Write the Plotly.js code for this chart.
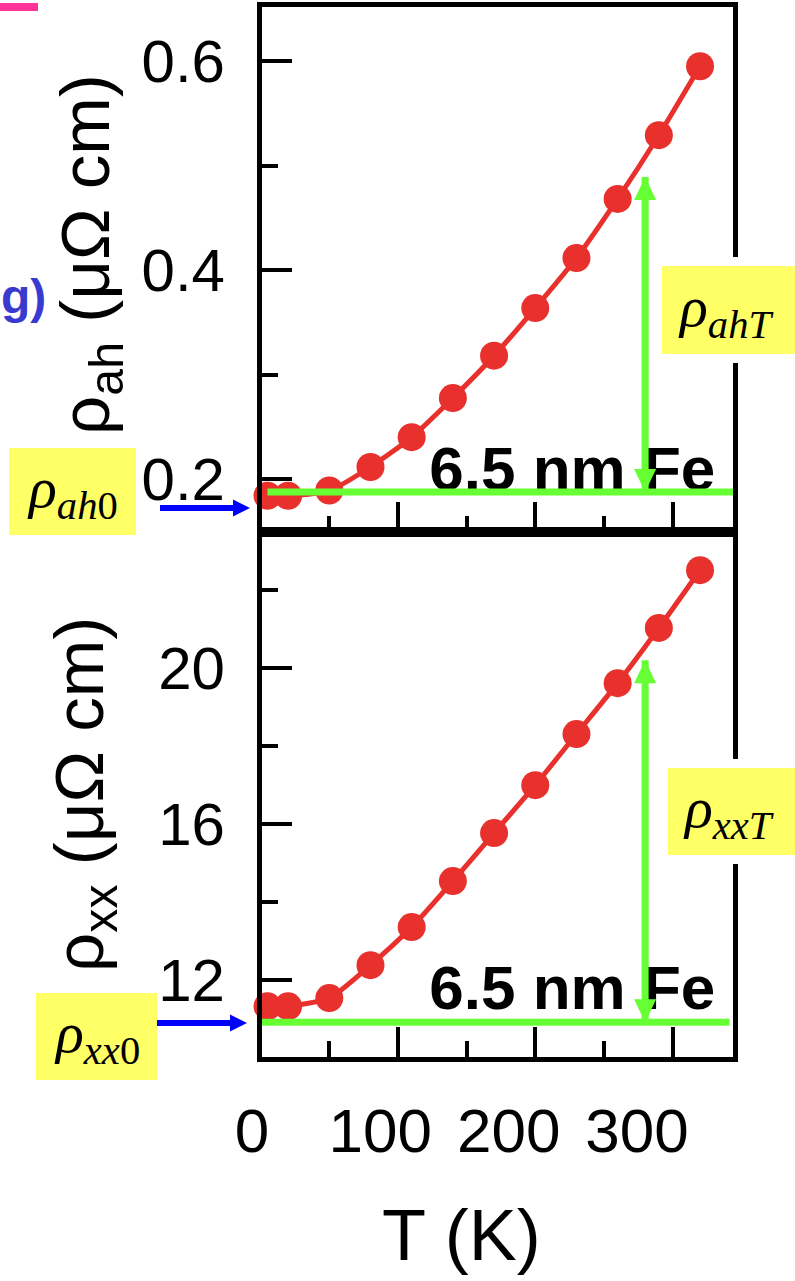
<!DOCTYPE html>
<html>
<head>
<meta charset="utf-8">
<script src="https://cdn.plot.ly/plotly-3.0.1.min.js"></script>
<style>
  html, body { margin: 0; padding: 0; background: #ffffff; }
  #chart { width: 795px; height: 1281px; }
</style>
</head>
<body>
<div id="chart"></div>
<script>
// Temperature points (K)
const T = [5, 20, 50, 80, 110, 140, 170, 200, 230, 260, 290, 320];
// Anomalous Hall resistivity (μΩ cm)
const rhoAH = [0.184, 0.184, 0.189, 0.2115, 0.240, 0.2775, 0.318, 0.3636, 0.4115, 0.468, 0.529, 0.595];
// Longitudinal resistivity (μΩ cm)
const rhoXX = [11.33, 11.33, 11.54, 12.385, 13.36, 14.54, 15.77, 17.0, 18.31, 19.615, 21.03, 22.51];

// Residual (T -> 0) levels and the temperature-dependent part marked at T = 280 K
const rhoAH0 = 0.1876;
const rhoXX0 = 10.92;
const markT = 280;
const markAHtop = 0.489;
const markXXtop = 20.2;

// Tick labels
const tTicks = [0, 100, 200, 300];
const tTickText = ['0', '100', '200', '300'];
const ahTicks = [0.2, 0.4, 0.6];
const ahTickText = ['0.2', '0.4', '0.6'];
const xxTicks = [12, 16, 20];
const xxTickText = ['12', '16', '20'];

const RED = '#e8302d';
const GREEN = '#66ff33';
const YELLOW = '#ffff66';
const BLUE = '#0000ff';
const SANS = 'Liberation Sans, Arial, sans-serif';
const SERIF = 'Liberation Serif, Times New Roman, serif';

// Plot area in page pixels
const M = { l: 230, r: 62, t: 7, b: 224 };
const W = 795, H = 1281;
const PW = W - M.l - M.r, PH = H - M.t - M.b;
const X = px => (px - M.l) / PW;          // page x -> paper fraction
const Y = py => (H - M.b - py) / PH;      // page y -> paper fraction
const xDom0 = X(262);

const frameAxis = {
  showline: true, linewidth: 5, linecolor: '#000', mirror: true,
  ticks: 'inside', ticklen: 30, tickwidth: 4, tickcolor: '#000',
  showgrid: false, zeroline: false, fixedrange: true
};

function tAxis(anchor) {
  return Object.assign({}, frameAxis, {
    domain: [xDom0, 1], range: [1, 344], anchor: anchor,
    tickmode: 'array', tickvals: [100, 200, 300], showticklabels: false,
    minor: { tickmode: 'array', tickvals: [50, 150, 250], ticks: 'inside', ticklen: 16, tickwidth: 4, tickcolor: '#000' }
  });
}

const traces = [
  {
    x: T, y: rhoAH, xaxis: 'x', yaxis: 'y', type: 'scatter', mode: 'lines+markers',
    line: { color: RED, width: 5, shape: 'spline', smoothing: 0.6 },
    marker: { color: RED, size: 28 }, cliponaxis: false, showlegend: false
  },
  {
    x: T, y: rhoXX, xaxis: 'x2', yaxis: 'y2', type: 'scatter', mode: 'lines+markers',
    line: { color: RED, width: 5, shape: 'spline', smoothing: 0.6 },
    marker: { color: RED, size: 28 }, cliponaxis: false, showlegend: false
  },
  {
    x: [227], y: [0.2048], xaxis: 'x', yaxis: 'y', type: 'scatter', mode: 'text',
    text: ['6.5 nm Fe'], textposition: 'middle center', cliponaxis: false,
    textfont: { family: SANS, size: 62, weight: 'bold', color: '#000' }, showlegend: false
  },
  {
    x: [227], y: [11.67], xaxis: 'x2', yaxis: 'y2', type: 'scatter', mode: 'text',
    text: ['6.5 nm Fe'], textposition: 'middle center', cliponaxis: false,
    textfont: { family: SANS, size: 62, weight: 'bold', color: '#000' }, showlegend: false
  },
  // carries the temperature tick labels along the bottom
  { x: [], y: [], xaxis: 'x3', yaxis: 'y2', type: 'scatter', mode: 'markers', showlegend: false, hoverinfo: 'skip' }
];

// Double-headed green arrow between the residual level and the curve
function doubleArrow(xr, yr, xv, yLow, yHigh) {
  const head = { xref: xr, yref: yr, xsizemode: 'pixel', ysizemode: 'pixel', xanchor: xv,
                 type: 'path', fillcolor: GREEN, line: { width: 0 } };
  return [
    { type: 'line', xref: xr, yref: yr, x0: xv, x1: xv, y0: yLow, y1: yHigh, line: { color: GREEN, width: 7 } },
    Object.assign({}, head, { yanchor: yHigh, path: 'M0,0 L-11,-23 L11,-23 Z' }),
    Object.assign({}, head, { yanchor: yLow, path: 'M0,0 L-11,23 L11,23 Z' })
  ];
}

// Blue pointer toward the residual level
function bluePointer(pxStart, pxTip, py) {
  return [
    { type: 'line', xref: 'paper', yref: 'paper', x0: X(pxStart), x1: X(pxTip - 14), y0: Y(py), y1: Y(py), line: { color: BLUE, width: 6 } },
    { type: 'path', xref: 'paper', yref: 'paper', xsizemode: 'pixel', ysizemode: 'pixel',
      xanchor: X(pxTip), yanchor: Y(py), path: 'M0,0 L-17,8.5 L-17,-8.5 Z', fillcolor: BLUE, line: { width: 0 } }
  ];
}

function box(x0, x1, y0, y1, pad) {
  const out = [];
  if (pad) {
    out.push({ type: 'rect', xref: 'paper', yref: 'paper', x0: X(x0 - pad), x1: X(x1 + pad), y0: Y(y1 + pad), y1: Y(y0 - pad),
               fillcolor: '#ffffff', line: { width: 0 } });
  }
  out.push({ type: 'rect', xref: 'paper', yref: 'paper', x0: X(x0), x1: X(x1), y0: Y(y1), y1: Y(y0),
             fillcolor: YELLOW, line: { width: 0 } });
  return out;
}

const shapes = [].concat(
  [{ type: 'rect', xref: 'paper', yref: 'paper', x0: X(0), x1: X(38), y0: Y(11), y1: Y(3), fillcolor: '#ff3399', line: { width: 0 } }],
  [{ type: 'line', xref: 'x', yref: 'y', x0: 5, x1: 344, y0: rhoAH0, y1: rhoAH0, line: { color: GREEN, width: 7 } }],
  [{ type: 'line', xref: 'x2', yref: 'y2', x0: 1, x1: 341.5, y0: rhoXX0, y1: rhoXX0, line: { color: GREEN, width: 7 } }],
  doubleArrow('x', 'y', markT, rhoAH0, markAHtop),
  doubleArrow('x2', 'y2', markT, rhoXX0, markXXtop),
  bluePointer(160, 250, 508),
  bluePointer(157, 247, 1023),
  box(9, 136, 448, 535, 0),
  box(662, 805, 266, 354, 9),
  box(668, 805, 768, 855, 9),
  box(36, 157, 993, 1080, 0)
);

function boxLabel(text, px, py) {
  return { text: text, xref: 'paper', yref: 'paper', x: X(px), y: Y(py), xanchor: 'center', yanchor: 'middle',
           showarrow: false, font: { family: SERIF, size: 58, color: '#000' } };
}

const annotations = [
  { text: 'ρ<sub>ah</sub> (μΩ cm)', textangle: -90, xref: 'paper', yref: 'paper', x: X(90), y: Y(255),
    xanchor: 'center', yanchor: 'middle', showarrow: false, font: { family: SANS, size: 69, color: '#000' } },
  { text: 'ρ<sub>xx</sub> (μΩ cm)', textangle: -90, xref: 'paper', yref: 'paper', x: X(84), y: Y(795),
    xanchor: 'center', yanchor: 'middle', showarrow: false, font: { family: SANS, size: 69, color: '#000' } },
  { text: 'T (K)', xref: 'paper', yref: 'paper', x: X(461.5), y: Y(1235), xanchor: 'center', yanchor: 'middle',
    showarrow: false, font: { family: SANS, size: 72, color: '#000' } },
  { text: '<b>g)</b>', xref: 'paper', yref: 'paper', x: X(-1), y: Y(296), xanchor: 'left', yanchor: 'middle',
    showarrow: false, font: { family: SANS, size: 48, color: '#3a3ad0' } },
  boxLabel('<i>ρ</i><sub><i>ah</i>0</sub>', 72, 491),
  boxLabel('<i>ρ</i><sub><i>ahT</i></sub>', 725, 310),
  boxLabel('<i>ρ</i><sub><i>xxT</i></sub>', 728, 811),
  boxLabel('<i>ρ</i><sub><i>xx</i>0</sub>', 97, 1036)
];

const layout = {
  width: W, height: H,
  margin: M,
  paper_bgcolor: '#ffffff', plot_bgcolor: 'rgba(0,0,0,0)',
  showlegend: false,
  font: { family: SANS, color: '#000' },
  xaxis: tAxis('y'),
  xaxis2: tAxis('y2'),
  xaxis3: {
    domain: [0, 1], range: [-17.14, 374.8], anchor: 'y2', side: 'bottom',
    tickmode: 'array', tickvals: tTicks, ticktext: tTickText, ticks: '',
    showline: false, showgrid: false, zeroline: false, fixedrange: true,
    tickfont: { family: SANS, size: 62, color: '#000' }, ticklabelstandoff: 32
  },
  yaxis: Object.assign({}, frameAxis, {
    domain: [0.5, 1], range: [0.1493, 0.6517], anchor: 'x',
    tickmode: 'array', tickvals: ahTicks, ticktext: ahTickText,
    tickfont: { family: SANS, size: 60, color: '#000' }, ticklabelstandoff: 20,
    minor: { tickmode: 'array', tickvals: [0.3, 0.5], ticks: 'inside', ticklen: 16, tickwidth: 4, tickcolor: '#000' }
  }),
  yaxis2: Object.assign({}, frameAxis, {
    domain: [0, 0.5], range: [10.03, 23.49], anchor: 'x2',
    tickmode: 'array', tickvals: xxTicks, ticktext: xxTickText,
    tickfont: { family: SANS, size: 60, color: '#000' }, ticklabelstandoff: 20,
    minor: { tickmode: 'array', tickvals: [14, 18, 22], ticks: 'inside', ticklen: 16, tickwidth: 4, tickcolor: '#000' }
  }),
  shapes: shapes,
  annotations: annotations
};

Plotly.newPlot('chart', traces, layout, { staticPlot: true, displayModeBar: false });
</script>
</body>
</html>
